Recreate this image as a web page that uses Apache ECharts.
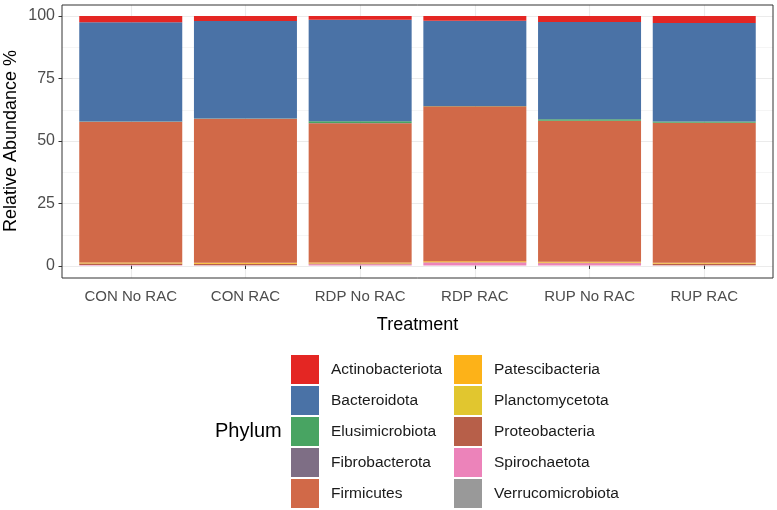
<!DOCTYPE html>
<html>
<head>
<meta charset="utf-8">
<script src="https://cdn.jsdelivr.net/npm/echarts@6/dist/echarts.min.js"></script>
<style>
html,body{margin:0;padding:0;background:#fff;}
#chart{width:777px;height:510px;}
</style>
</head>
<body>
<div id="chart"></div>
<script>
const categories = ['CON No RAC','CON RAC','RDP No RAC','RDP RAC','RUP No RAC','RUP RAC'];
const phyla = ['Actinobacteriota','Bacteroidota','Elusimicrobiota','Fibrobacterota','Firmicutes',
  'Patescibacteria','Planctomycetota','Proteobacteria','Spirochaetota','Verrucomicrobiota'];
const phylumColors = ['#E42623','#4A72A6','#48A462','#7E6E85','#D16948',
  '#FDB218','#E1C62F','#B75F49','#EC83BA','#999999'];
const actinobacteriota  = [2.5, 2.0, 1.5, 1.9, 2.4, 2.8];
const bacteroidota      = [39.75, 39.1, 40.7, 34.15, 39.0, 39.5];
const elusimicrobiota   = [0.1, 0.05, 0.7, 0.1, 0.55, 0.45];
const fibrobacterota    = [0.05, 0.05, 0.1, 0.05, 0.05, 0.05];
const firmicutes        = [56.4, 57.7, 55.8, 62.05, 56.5, 56.1];
const patescibacteria   = [0.3, 0.4, 0.3, 0.35, 0.3, 0.3];
const planctomycetota   = [0.05, 0.1, 0.05, 0.05, 0.05, 0.05];
const proteobacteria    = [0.6, 0.5, 0.3, 0.1, 0.2, 0.6];
const spirochaetota     = [0.2, 0.05, 0.5, 1.2, 0.9, 0.1];
const verrucomicrobiota = [0.05, 0.05, 0.05, 0.05, 0.05, 0.05];
const yTickMin = 0, yTickMax = 100, yTickStep = 25;
const yPanelMin = -5;

const values = [actinobacteriota, bacteroidota, elusimicrobiota, fibrobacterota, firmicutes,
  patescibacteria, planctomycetota, proteobacteria, spirochaetota, verrucomicrobiota];

const FONT = '"Liberation Sans", Arial, Helvetica, sans-serif';
const chart = echarts.init(document.getElementById('chart'), null, {renderer: 'canvas'});

// series in reverse so the first phylum ends up on top of the stack
const series = [];
for (let i = phyla.length - 1; i >= 0; i--) {
  series.push({
    name: phyla[i], type: 'bar', stack: 'all',
    xAxisIndex: 3, yAxisIndex: 3,
    barWidth: 103,
    itemStyle: {color: phylumColors[i]},
    emphasis: {disabled: true},
    data: values[i]
  });
}

const legendCommon = {
  orient: 'vertical', icon: 'rect', itemWidth: 28, itemHeight: 29, itemGap: 2,
  selectedMode: false, padding: 0, height: 200, width: 170,
  textStyle: {fontFamily: FONT, fontSize: 15.5, color: '#1a1a1a', padding: [0,0,0,7]}
};

const gridBase = {outerBoundsMode: 'none', containLabel: false};

chart.setOption({
  animation: false,
  backgroundColor: '#ffffff',
  textStyle: {fontFamily: FONT},
  grid: [
    Object.assign({left: 62, right: 4, top: 5, bottom: 232, show: true, borderColor: '#333333', borderWidth: 1, backgroundColor: 'transparent', z: 5}, gridBase),
    Object.assign({left: 62, right: 4, top: 16, bottom: 244}, gridBase),
    Object.assign({left: 130.8, right: 72.7, top: 5, bottom: 232}, gridBase),
    Object.assign({left: 73.4, right: 15.4, top: 16, bottom: 232}, gridBase)
  ],
  xAxis: [
    {gridIndex: 0, type: 'value', show: false},
    {gridIndex: 1, type: 'value', show: false},
    {gridIndex: 2, type: 'category', boundaryGap: false, data: categories,
      axisLine: {show: false}, axisTick: {show: false}, axisLabel: {show: false},
      splitLine: {show: true, interval: 0, lineStyle: {color: '#EBEBEB', width: 1.1}}},
    {gridIndex: 3, type: 'category', data: categories,
      axisLine: {show: false},
      axisTick: {show: true, alignWithLabel: true, interval: 0, length: 3.5, lineStyle: {color: '#333333', width: 1}},
      axisLabel: {color: '#4D4D4D', fontSize: 15, margin: 11, interval: 0, fontFamily: FONT},
      splitLine: {show: false},
      name: 'Treatment', nameLocation: 'middle', nameGap: 38, nameMoveOverlap: false,
      nameTextStyle: {color: '#000000', fontSize: 18, fontFamily: FONT}}
  ],
  yAxis: [
    {gridIndex: 0, type: 'value', show: false},
    {gridIndex: 1, type: 'value', min: yTickMin, max: yTickMax, interval: yTickStep,
      axisLine: {show: false},
      axisTick: {show: true, inside: false, length: 3.5, lineStyle: {color: '#333333', width: 1}},
      axisLabel: {color: '#4D4D4D', fontSize: 16, margin: 7, fontFamily: FONT},
      splitLine: {show: true, lineStyle: {color: '#EBEBEB', width: 1.1}},
      minorTick: {show: false, splitNumber: 2},
      minorSplitLine: {show: true, lineStyle: {color: '#EFEFEF', width: 0.6}},
      name: 'Relative Abundance %', nameLocation: 'middle', nameGap: 42, nameMoveOverlap: false,
      nameTextStyle: {color: '#000000', fontSize: 18, fontFamily: FONT}},
    {gridIndex: 2, type: 'value', show: false},
    {gridIndex: 3, type: 'value', min: yPanelMin, max: yTickMax, show: false}
  ],
  legend: [
    Object.assign({left: 291, top: 355, data: phyla.slice(0, 5)}, legendCommon),
    Object.assign({left: 454, top: 355, data: phyla.slice(5)}, legendCommon)
  ],
  graphic: [
    {type: 'text', left: 215, top: 421, style: {text: 'Phylum', fontSize: 20, fontFamily: FONT, fill: '#000000'}}
  ],
  series: series
});
</script>
</body>
</html>
